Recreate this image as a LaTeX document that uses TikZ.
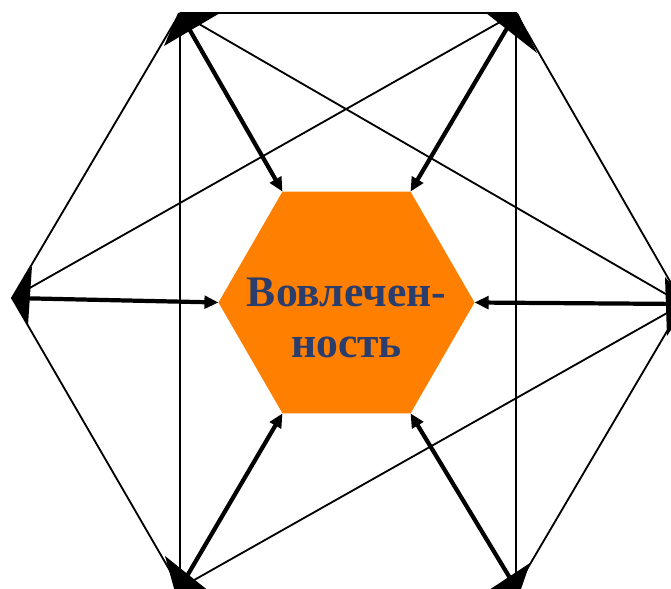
\documentclass[tikz,border=0pt]{standalone}
\usepackage{fontspec}
\setmainfont{Liberation Serif}
\usepackage{xcolor}
\usepackage{tikz}
\usetikzlibrary{arrows.meta,shapes.geometric}

\definecolor{hexorange}{RGB}{255,128,0}
\definecolor{textblue}{RGB}{43,61,108}

\begin{document}
\begin{tikzpicture}[
    x=0.025cm,y=-0.025cm,
    edge/.style={line width=1.3pt},
    push/.style={line width=3pt,-{Triangle[length=10pt,width=9pt]}},
    core/.style={regular polygon,regular polygon sides=6,fill=hexorange,
                 minimum size=6.4cm,inner sep=0pt,outer sep=0pt},
    wedge/.style={fill=black}
  ]
  \useasboundingbox (0,0) rectangle (671,589);
  % outer corners
  \coordinate (tl) at (180,13);
  \coordinate (tr) at (516,13);
  \coordinate (r)  at (683,304);
  \coordinate (br) at (516,588);
  \coordinate (bl) at (180,588);
  \coordinate (l)  at (12,298);
  \node[core] (eng) at (346.5,302.5) {};
  \node[font=\bfseries\fontsize{31}{36}\selectfont,text=textblue,align=center]
    (lbl) at (346.5,318) {Вовлечен-\\ность};
  % frame and cross lines
  \draw[edge] (tl) -- (tr) -- (r) -- (br);
  \draw[edge] (bl) -- (l) -- (tl);
  \draw[edge] (tl) -- (bl);
  \draw[edge] (tr) -- (br);
  \draw[edge] (tl) -- (r);
  \draw[edge] (tr) -- (l);
  \draw[edge] (bl) -- (r);
  % arrows into the centre
  \foreach \v/\a in {tl/120,tr/60,l/180,r/0,bl/240,br/300}{
    \draw[push] (\v) -- (eng.\a);
  }
  % black tips at the corners
  \fill[wedge] (tl) ++(-2,0) -- ++(42,0) -- ++(-56,33) -- cycle;
  \fill[wedge] (tr) ++(-30,0) -- ++(32,0) -- ++(19,40) -- cycle;
  \fill[wedge] (l) -- ++(20,-32) -- ++(-4,59) -- cycle;
  \fill[wedge] (r) ++(5,0) -- ++(-23,-27) -- ++(2,59) -- cycle;
  \fill[wedge] (bl) ++(-15,-32) -- ++(45,36) -- ++(-35,0) -- cycle;
  \fill[wedge] (br) ++(14,-25) -- ++(-44,29) -- ++(34,0) -- cycle;
\end{tikzpicture}
\end{document}
